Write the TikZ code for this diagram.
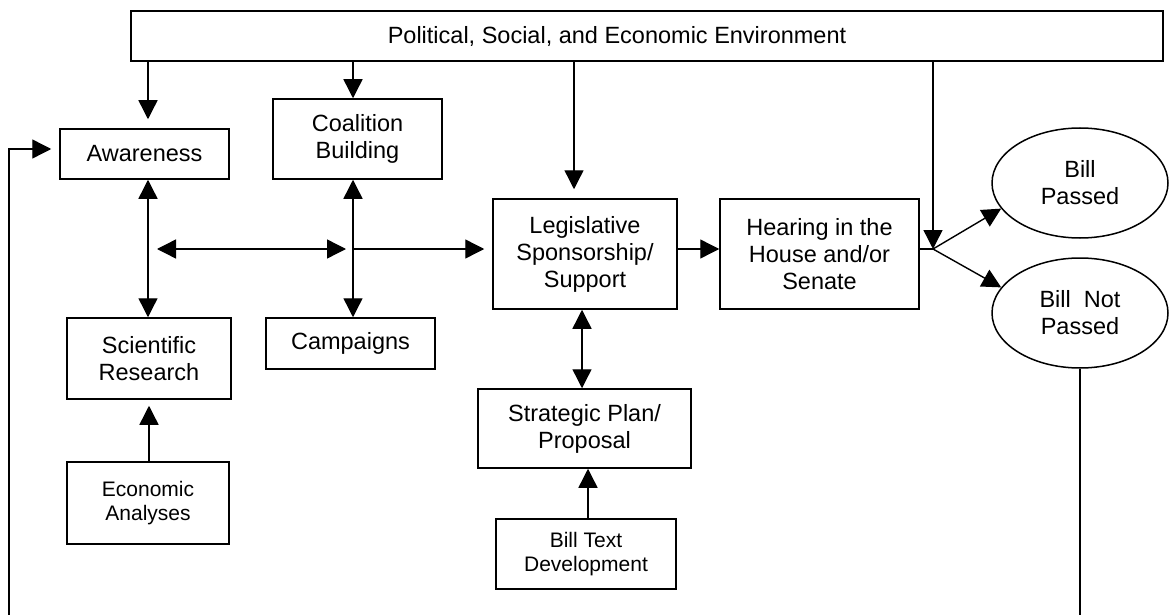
\documentclass[tikz,border=0pt]{standalone}
\usepackage{fontspec}
\setmainfont{Liberation Sans}
\usetikzlibrary{arrows.meta,shapes.geometric}
\begin{document}
\begin{tikzpicture}[x=1pt,y=-1pt,
  box/.style={draw, line width=1.5pt, align=center, inner sep=0pt, font=\fontsize{23.5}{27}\selectfont},
  smallbox/.style={box, font=\fontsize{21}{24}\selectfont},
  oval/.style={ellipse, draw, line width=1.5pt, align=center, inner sep=0pt, font=\fontsize{23.5}{27}\selectfont},
  conn/.style={line width=1.4pt},
  arr/.style={conn, -{Triangle[length=19pt,width=19pt]}},
  darr/.style={conn, {Triangle[length=19pt,width=19pt]}-{Triangle[length=19pt,width=19pt]}}]
\useasboundingbox (0,0) rectangle (1170,615);
\fill[white] (0,0) rectangle (1170,615);

\node[box, minimum width=1032pt, minimum height=50pt] (env) at (647,36) {\hspace*{-60pt}Political, Social, and Economic Environment};
\node[box, minimum width=169pt, minimum height=50pt] (aware) at (144.5,154) {Awareness};
\node[box, minimum width=169pt, minimum height=80pt] (coal) at (357.5,139) {Coalition\\Building};
\node[box, minimum width=164pt, minimum height=81pt] (sci) at (149,358.5) {Scientific\\Research};
\node[box, minimum width=169pt, minimum height=51pt] (camp) at (350.5,343.5) {Campaigns};
\node[smallbox, minimum width=162pt, minimum height=82pt] (econ) at (148,503) {Economic\\Analyses};
\node[box, minimum width=184pt, minimum height=110pt] (legis) at (585,254) {Legislative\\Sponsorship/\\Support};
\node[box, minimum width=199pt, minimum height=110pt] (hear) at (819.5,254) {Hearing in the\\House and/or\\Senate};
\node[box, minimum width=213pt, minimum height=79pt] (strat) at (584.5,428.5) {Strategic Plan/\\Proposal};
\node[smallbox, minimum width=180pt, minimum height=70pt] (bill) at (586,554) {Bill Text\\Development};
\node[oval, minimum width=176pt, minimum height=110pt] (passed) at (1080,183) {Bill\\Passed};
\node[oval, minimum width=176pt, minimum height=110pt] (notpassed) at (1080,313) {Bill\ \ Not\\Passed};

\coordinate (hl) at (148,249);
\coordinate (hr) at (353,249);
\coordinate (J) at (933,249);
\coordinate (fbtop) at (9,149);
\coordinate (fbbot) at (9,615);
\coordinate (npbot) at (1080,615);

% from environment
\draw[arr, shorten >=9pt] (env.south -| hl) -- (aware.north -| hl);
\draw[arr] (env.south -| hr) -- (coal.north -| hr);
\draw[arr, shorten >=9pt] (env.south -| 574,0) -- (legis.north -| 574,0);
\draw[arr] (env.south -| J) -- (J);

% vertical links
\draw[darr] (aware.south -| hl) -- (sci.north -| hl);
\draw[darr] (coal.south -| hr) -- (camp.north -| hr);
\draw[darr] (legis.south -| 582,0) -- (strat.north -| 582,0);
\draw[arr, shorten >=6pt] (econ.north -| 149,0) -- (sci.south -| 149,0);
\draw[arr] (bill.north -| 588,0) -- (strat.south -| 588,0);

% horizontal links
\draw[darr, shorten <=9pt, shorten >=7pt] (hl) -- (hr);
\draw[arr, shorten >=8pt] (hr) -- (legis.west |- hr);
\draw[arr] (legis.east |- hr) -- (hear.west |- hr);
\draw[conn] (hear.east |- J) -- (J);
\draw[arr] (J) -- (passed.198);
\draw[arr] (J) -- (notpassed.162);

% feedback loop
\draw[conn] (notpassed.south) -- (npbot);
\draw[arr, shorten >=8pt] (fbbot) -- (fbtop) -- (aware.west |- fbtop);
\end{tikzpicture}
\end{document}
